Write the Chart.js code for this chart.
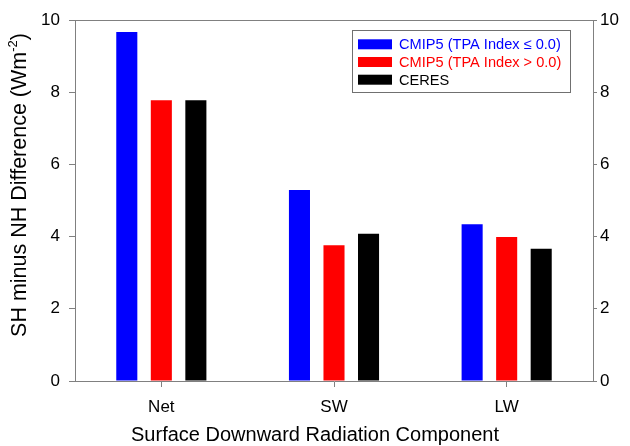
<!DOCTYPE html>
<html>
<head>
<meta charset="utf-8">
<script src="https://cdn.jsdelivr.net/npm/chart.js@4.4.1/dist/chart.umd.min.js"></script>
<style>
  html, body { margin: 0; padding: 0; background: #fff; }
  #wrap { width: 630px; height: 446px; }
</style>
</head>
<body>
<div id="wrap"><canvas id="chart" width="630" height="446"></canvas></div>
<script>
// values
const categories = ['Net', 'SW', 'LW'];
const cmip5Low = [9.67, 5.29, 4.34];   // TPA index <= 0.0
const cmip5High = [7.78, 3.76, 3.99];  // TPA index > 0.0
const ceres = [7.78, 4.08, 3.66];
const seriesLabels = ['CMIP5 (TPA Index \u2264 0.0)', 'CMIP5 (TPA Index > 0.0)', 'CERES'];
const seriesColors = ['#0000ff', '#ff0000', '#000000'];
const yTicks = [0, 2, 4, 6, 8, 10];

const FONT = '"Liberation Sans", Arial, sans-serif';
const AXIS_GRAY = '#808080';

// frame top line, boxed legend, axis titles (with superscript)
const decorations = {
  id: 'decorations',
  afterDraw(chart) {
    const ctx = chart.ctx;
    const area = chart.chartArea;
    ctx.save();

    // top edge of the frame
    ctx.strokeStyle = AXIS_GRAY;
    ctx.lineWidth = 1;
    ctx.beginPath();
    ctx.moveTo(area.left, area.top + 0.5);
    ctx.lineTo(area.right, area.top + 0.5);
    ctx.stroke();

    // legend
    const lx = 352.5, ly = 30.5, lw = 218, lh = 62;
    ctx.fillStyle = '#fff';
    ctx.fillRect(lx, ly, lw, lh);
    ctx.strokeStyle = '#707070';
    ctx.strokeRect(lx, ly, lw, lh);
    ctx.font = '14.6px ' + FONT;
    ctx.textBaseline = 'middle';
    ctx.textAlign = 'left';
    chart.data.datasets.forEach((ds, i) => {
      const cy = 44.3 + i * 17.7;
      ctx.fillStyle = ds.backgroundColor;
      ctx.fillRect(358, cy - 5, 34, 10);
      ctx.fillText(ds.label, 399, cy + 1);
    });

    // x axis title
    ctx.fillStyle = '#000';
    ctx.font = '20px ' + FONT;
    ctx.textAlign = 'center';
    ctx.textBaseline = 'alphabetic';
    ctx.fillText('Surface Downward Radiation Component', 315, 441);

    // y axis title, rotated, with superscript
    const main = 'SH minus NH Difference (Wm';
    const sup = '-2';
    const tail = ')';
    ctx.font = '21.5px ' + FONT;
    const wMain = ctx.measureText(main).width;
    const wTail = ctx.measureText(tail).width;
    ctx.font = '13px ' + FONT;
    const wSup = ctx.measureText(sup).width;
    const total = wMain + wSup + wTail;
    ctx.translate(26, 185);
    ctx.rotate(-Math.PI / 2);
    ctx.textAlign = 'left';
    let x0 = -total / 2;
    ctx.font = '21.5px ' + FONT;
    ctx.fillText(main, x0, 0);
    ctx.font = '13px ' + FONT;
    ctx.fillText(sup, x0 + wMain, -9);
    ctx.font = '21.5px ' + FONT;
    ctx.fillText(tail, x0 + wMain + wSup, 0);

    ctx.restore();
  }
};

const yAxisBase = {
  min: 0,
  max: 10,
  grid: { drawOnChartArea: false, drawTicks: true, tickLength: 6, tickColor: AXIS_GRAY },
  border: { display: true, color: AXIS_GRAY, width: 1 },
  ticks: {
    stepSize: 2,
    color: '#000',
    font: { family: FONT, size: 17 },
    callback: (v) => (yTicks.includes(v) ? v : '')
  }
};

new Chart(document.getElementById('chart'), {
  type: 'bar',
  data: {
    labels: categories,
    datasets: [
      { label: seriesLabels[0], data: cmip5Low, backgroundColor: seriesColors[0] },
      { label: seriesLabels[1], data: cmip5High, backgroundColor: seriesColors[1] },
      { label: seriesLabels[2], data: ceres, backgroundColor: seriesColors[2] }
    ]
  },
  options: {
    responsive: false,
    animation: false,
    events: [],
    layout: { padding: { top: 20, left: 0, right: 0, bottom: 0 } },
    datasets: { bar: { categoryPercentage: 0.6, barPercentage: 0.61, yAxisID: 'y' } },
    plugins: {
      legend: { display: false },
      tooltip: { enabled: false }
    },
    scales: {
      x: {
        grid: { offset: false, drawOnChartArea: false, drawTicks: true, tickLength: 6, tickColor: AXIS_GRAY },
        border: { display: true, color: AXIS_GRAY, width: 1 },
        ticks: { color: '#000', padding: 10, font: { family: FONT, size: 17 } },
        afterFit: (s) => { s.height = 65; }
      },
      y: Object.assign({}, yAxisBase, {
        position: 'left',
        ticks: Object.assign({}, yAxisBase.ticks, { padding: 9 }),
        afterFit: (s) => { s.width = 75; }
      }),
      y2: Object.assign({}, yAxisBase, {
        position: 'right',
        grid: Object.assign({}, yAxisBase.grid, { tickLength: 4 }),
        ticks: Object.assign({}, yAxisBase.ticks, { padding: 3 }),
        afterFit: (s) => { s.width = 37; }
      })
    }
  },
  plugins: [decorations]
});
</script>
</body>
</html>
